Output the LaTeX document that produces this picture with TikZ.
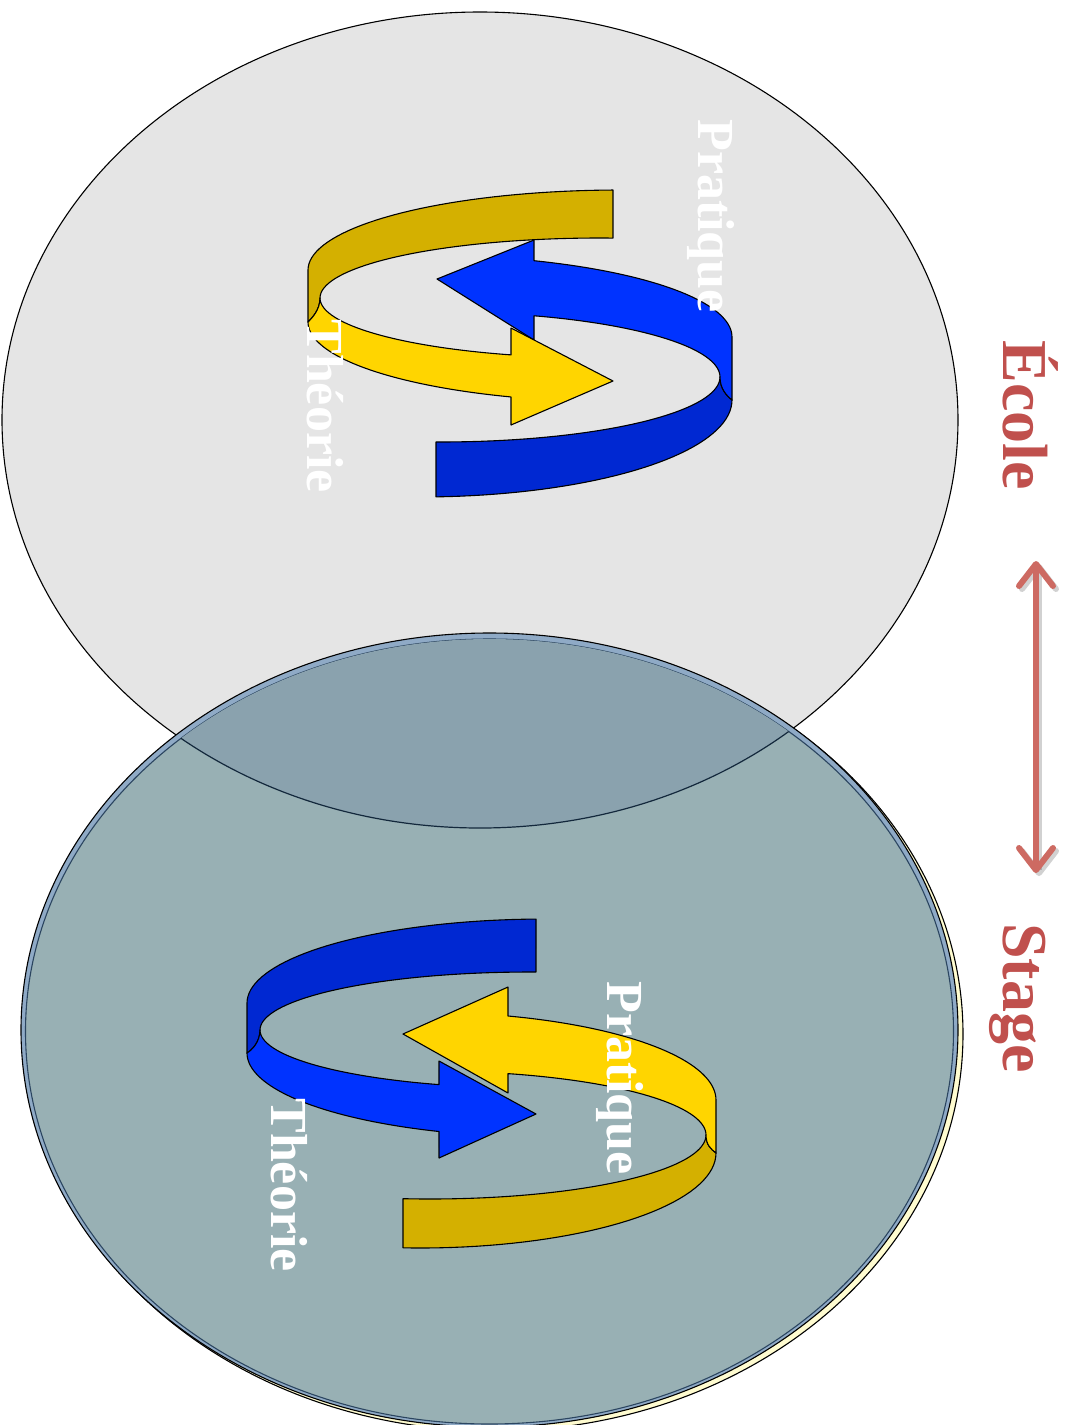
\documentclass[tikz,border=0pt]{standalone}
\usepackage{fontspec}
\setmainfont{Liberation Serif}
\usetikzlibrary{arrows.meta}
\definecolor{greyA}{HTML}{E5E5E5}
\definecolor{lowFill}{HTML}{98B0B4}
\definecolor{ovFill}{HTML}{8AA2AE}
\definecolor{bandBlue}{HTML}{8FAAC6}
\definecolor{edgeBlue}{HTML}{2B4560}
\definecolor{edgeDark}{HTML}{13283C}
\definecolor{paleY}{HTML}{FFFCD0}
\definecolor{goldD}{HTML}{D4B000}
\definecolor{goldB}{HTML}{FFD500}
\definecolor{blueB}{HTML}{0033FF}
\definecolor{blueD}{HTML}{0028D2}
\definecolor{redT}{HTML}{C0504D}
\definecolor{redA}{HTML}{CD6A62}
\begin{document}
\begin{tikzpicture}[x=1pt,y=-1pt,
  ribbon/.style={draw=black, line width=1.1pt, line join=round},
  lbl/.style={text=white, font=\fontsize{52}{60}\selectfont\bfseries, rotate=-90, inner sep=0pt},
  side/.style={text=redT, font=\fontsize{64}{72}\selectfont\bfseries, rotate=-90, inner sep=0pt},
  dbl/.style={draw=redA, line width=6pt, {Straight Barb[round,length=22pt,width=34pt]}-{Straight Barb[round,length=22pt,width=34pt]}},
  ]
\useasboundingbox (0,0) rectangle (1067,1425);
\clip (0,0) rectangle (1067,1425);

% upper ellipse (Ecole)
\fill[greyA] (480,420) ellipse [x radius=478, y radius=408];
\draw[black, line width=1.1pt] (480,420) ellipse [x radius=478, y radius=408];

% lower ellipse (Stage)
\filldraw[fill=paleY, draw=black, line width=1.1pt] (494,1034) ellipse [x radius=469, y radius=397];
\filldraw[fill=bandBlue, draw=black, line width=1.1pt] (489.5,1030) ellipse [x radius=468.5, y radius=397];
\filldraw[fill=lowFill, draw=edgeBlue, line width=1.1pt] (489.5,1031.5) ellipse [x radius=464, y radius=392.5];
\begin{scope}
  \clip (489.5,1031.5) ellipse [x radius=464, y radius=392.5];
  \fill[ovFill] (480,420) ellipse [x radius=478, y radius=408];
  \draw[edgeDark, line width=1.2pt] (480,420) ellipse [x radius=478, y radius=408];
\end{scope}

% ---- upper circular arrows ----
% gold back band
\filldraw[ribbon, fill=goldD] plot[domain=268.71:180, samples=40, variable=\t] ({620+312*cos(\t)},{270+80*sin(\t)})
  -- (308,322) .. controls (312,318) and (320,310) .. (320,298)
  -- plot[domain=180:272.66, samples=40, variable=\t] ({600+280*cos(\t)},{298+60*sin(\t)}) -- cycle;
% blue back band
\filldraw[ribbon, fill=blueD] (720,377)
  -- plot[domain=0:90.82, samples=40, variable=\t] ({440+280*cos(\t)},{377+65*sin(\t)})
  -- plot[domain=87.06:0, samples=40, variable=\t] ({420+312*cos(\t)},{400+97*sin(\t)})
  .. controls (727,396) and (720,389) .. (720,377) -- cycle;
% blue front band with head
\filldraw[ribbon, fill=blueB] (534,240)
  -- plot[domain=-68.57:0, samples=40, variable=\t] ({420+312*cos(\t)},{337+82*sin(\t)})
  -- (732,400) .. controls (727,396) and (720,389) .. (720,377)
  -- plot[domain=0:-70.38, samples=40, variable=\t] ({440+280*cos(\t)},{377+65*sin(\t)})
  -- (534,340) -- (437,279) -- cycle;
% gold front band with head
\filldraw[ribbon, fill=goldB] (320,298)
  -- plot[domain=180:108.53, samples=40, variable=\t] ({600+280*cos(\t)},{298+60*sin(\t)})
  -- (511,328) -- (613,381) -- (511,425)
  -- plot[domain=110.45:180, samples=40, variable=\t] ({620+312*cos(\t)},{322+80*sin(\t)})
  .. controls (312,318) and (320,310) .. (320,298) -- cycle;

% ---- lower circular arrows ----
% blue back band
\filldraw[ribbon, fill=blueD] plot[domain=268.27:180, samples=40, variable=\t] ({545+298*cos(\t)},{1003+84*sin(\t)})
  -- (247,1053) .. controls (252,1050) and (260,1042) .. (260,1030)
  -- plot[domain=180:271.27, samples=40, variable=\t] ({530+270*cos(\t)},{1030+58*sin(\t)}) -- cycle;
% gold back band
\filldraw[ribbon, fill=goldD] (706,1135)
  -- plot[domain=0:95.61, samples=40, variable=\t] ({430+276*cos(\t)},{1135+64*sin(\t)})
  -- plot[domain=93.29:0, samples=40, variable=\t] ({420+296*cos(\t)},{1153+95*sin(\t)})
  .. controls (711,1149) and (706,1145) .. (706,1135) -- cycle;
% gold front band with head
\filldraw[ribbon, fill=goldB] (508,987)
  -- plot[domain=-72.7:0, samples=40, variable=\t] ({420+296*cos(\t)},{1100+88*sin(\t)})
  -- (716,1153) .. controls (711,1149) and (706,1145) .. (706,1135)
  -- plot[domain=0:-73.58, samples=40, variable=\t] ({430+276*cos(\t)},{1135+64*sin(\t)})
  -- (508,1093) -- (403,1034) -- cycle;
% blue front band with head
\filldraw[ribbon, fill=blueB] (260,1030)
  -- plot[domain=180:109.7, samples=40, variable=\t] ({530+270*cos(\t)},{1030+58*sin(\t)})
  -- (439,1061) -- (536,1114) -- (439,1158)
  -- plot[domain=110.84:180, samples=40, variable=\t] ({545+298*cos(\t)},{1053+84*sin(\t)})
  .. controls (252,1050) and (260,1042) .. (260,1030) -- cycle;

% labels
\node[lbl] (pratU) at (711,216) {Pratique};
\node[lbl] (theoU) at (325,406) {Théorie};
\node[lbl] (pratL) at (620,1078) {Pratique};
\node[lbl] (theoL) at (289,1185) {Théorie};
\node[side] (ecole) at (1031,415) {École};
\node[side] (stage) at (1018,998) {Stage};

% double arrow
\coordinate (arTop) at (1036,561);
\coordinate (arBot) at (1036,873);
\draw[dbl, draw=black, opacity=0.18, transform canvas={shift={(3pt,-3pt)}}] (arTop) -- (arBot);
\draw[dbl] (arTop) -- (arBot);
\end{tikzpicture}
\end{document}
